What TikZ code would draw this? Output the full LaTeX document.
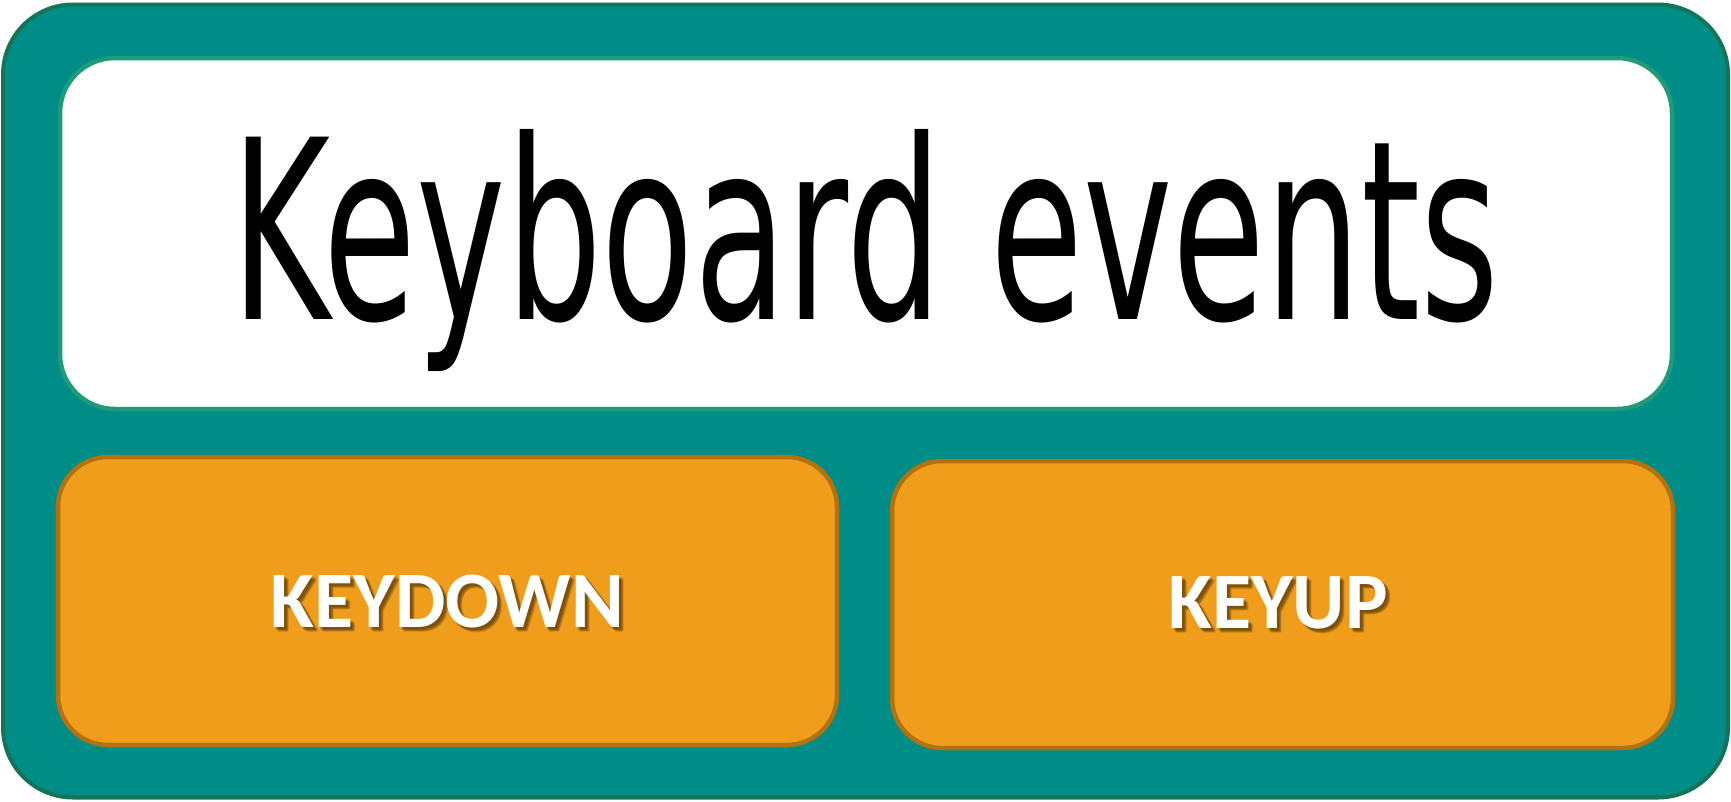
\documentclass[tikz,border=0pt]{standalone}
\usepackage{fontspec}
\setmainfont{Carlito}
\newfontfamily\titlefont{DejaVu Sans}
\definecolor{tealfill}{HTML}{008C87}
\definecolor{tealline}{HTML}{137556}
\definecolor{whiteline}{HTML}{1F9C77}
\definecolor{orfill}{HTML}{F09D1B}
\definecolor{orline}{HTML}{B4720F}
\definecolor{shadowcol}{HTML}{5A3A08}
\tikzset{
  outerbox/.style={draw=tealline, fill=tealfill, line width=4pt, rounded corners=70pt, inner sep=0pt, outer sep=0pt},
  titlebox/.style={draw=whiteline, fill=white, line width=4.5pt, rounded corners=55pt, inner sep=0pt, outer sep=0pt},
  keybox/.style={draw=orline, fill=orfill, line width=4.5pt, rounded corners=50pt, inner sep=0pt, outer sep=0pt},
  keytext/.style={text=white, font=\fontsize{80}{80}\selectfont\bfseries, anchor=base, inner sep=0pt},
  keyshadow/.style={text=shadowcol, opacity=0.14, font=\fontsize{80}{80}\selectfont\bfseries, anchor=base, inner sep=0pt},
}
\begin{document}
\begin{tikzpicture}[x=1pt,y=-1pt]
\useasboundingbox (0,0) rectangle (1731,801);
\node[outerbox, minimum width=1725pt, minimum height=793pt] (outer) at (865.5,401) {};
\node[titlebox, minimum width=1612pt, minimum height=351pt] (title) at (866,233.5) {};
\node[keybox, minimum width=779pt, minimum height=288pt] (down) at (447.5,601) {};
\node[keybox, minimum width=781pt, minimum height=287pt] (up) at (1282.5,604.5) {};
\node[anchor=base, inner sep=0pt] (titletext) at (865.5,319) {\resizebox{1267pt}{190pt}{\titlefont Keyboard events}};
\foreach \dx/\dy [count=\k] in {2/2,3/3,4/4,4/3,3/4,5/4,4/5,2/3,3/2} {
  \node[keyshadow] (downsh\k) at (447.5+\dx,627+\dy) {KEYDOWN};
  \node[keyshadow] (upsh\k) at (1278+\dx,628+\dy) {KEYUP};
}
\node[keytext] (downtext) at (447.5,627) {KEYDOWN};
\node[keytext] (uptext) at (1278,628) {KEYUP};
\end{tikzpicture}
\end{document}
